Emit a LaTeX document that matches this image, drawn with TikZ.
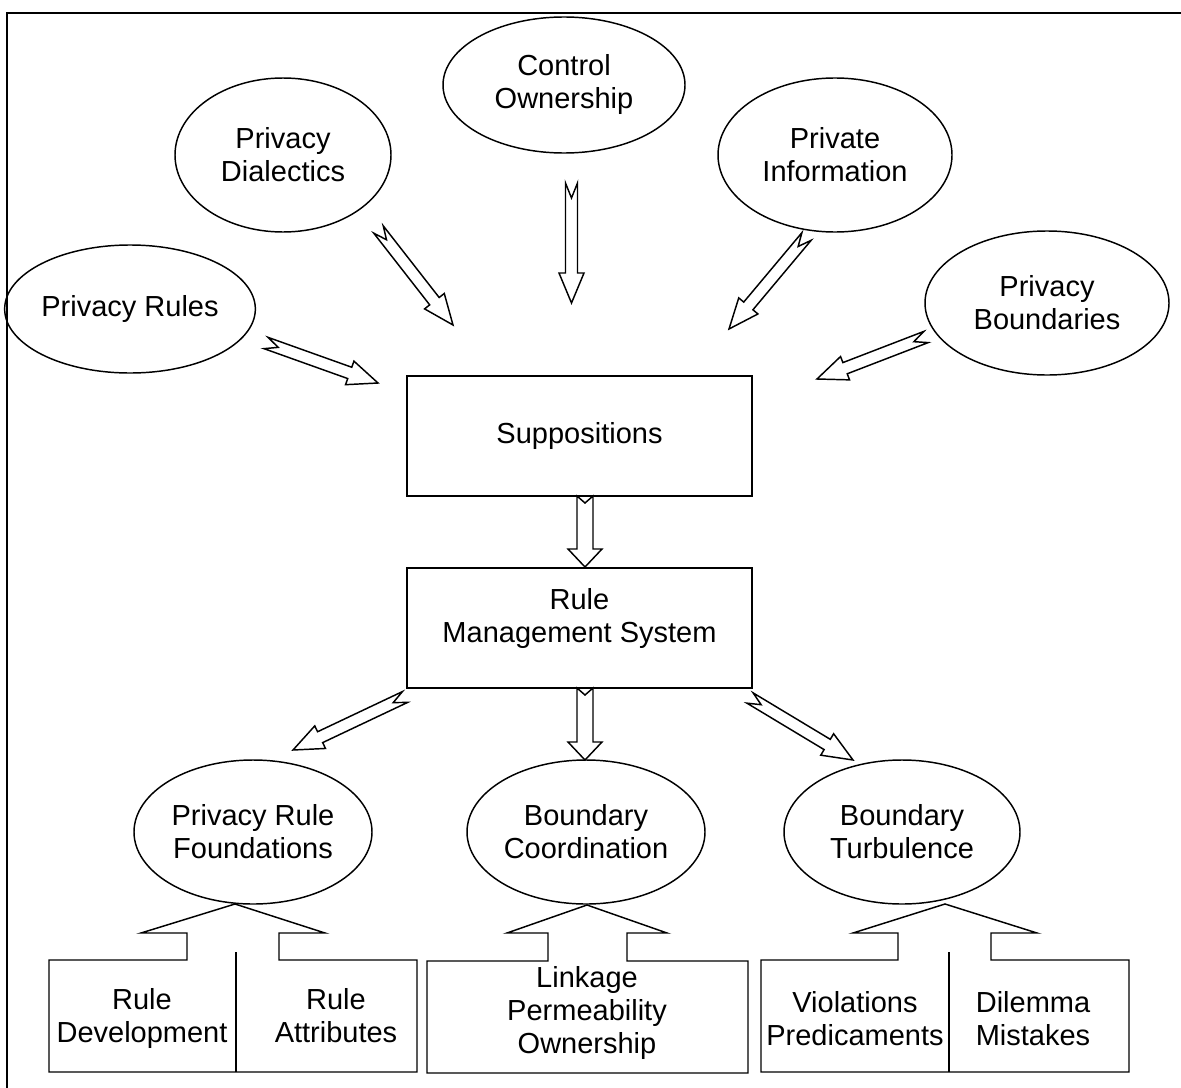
\documentclass[tikz,border=0pt]{standalone}
\usepackage{fontspec}
\setmainfont{Liberation Sans}
\usetikzlibrary{shapes.geometric,calc}

% Hollow block arrow with a notched tail, drawn from a tail point to a tip point.
% #1 tail, #2 tip, #3 shaft half-width, #4 head half-width, #5 head length, #6 notch depth (all in px)
\newcommand{\notcharrow}[6]{%
  \draw[blockarrow] let \p1=(#1), \p2=(#2),
      \n1={atan2(\y2-\y1,\x2-\x1)},
      \n2={veclen(\x2-\x1,\y2-\y1)-#5*0.75pt}
    in ($(\p1)+(\n1+90:#3*0.75pt)$)
    -- ($(\p1)+(\n1:\n2)+(\n1+90:#3*0.75pt)$)
    -- ($(\p1)+(\n1:\n2)+(\n1+90:#4*0.75pt)$)
    -- (\p2)
    -- ($(\p1)+(\n1:\n2)+(\n1-90:#4*0.75pt)$)
    -- ($(\p1)+(\n1:\n2)+(\n1-90:#3*0.75pt)$)
    -- ($(\p1)+(\n1-90:#3*0.75pt)$)
    -- ($(\p1)+(\n1:#6*0.75pt)$)
    -- cycle;}

\begin{document}
\begin{tikzpicture}[x=0.75pt,y=-0.75pt,line width=1.1pt,
  every node/.style={font=\fontsize{21.75}{24.75}\selectfont,align=center},
  bubble/.style={draw,ellipse,inner sep=0pt},
  panel/.style={draw,rectangle,inner sep=0pt,minimum width=0.75*345,minimum height=0.75*120},
  caption/.style={inner sep=0pt},
  blockarrow/.style={draw,fill=white,line join=miter},
  callout/.style={draw,line join=miter}]
\useasboundingbox (0,0) rectangle (1181,1088);

% outer frame
\draw[line width=1.6pt] (7,1088) -- (7,13) -- (1181,13);

% top ring of concepts
\node[bubble,minimum width=0.75*238,minimum height=0.75*128] (rules) at (130,309) {Privacy Rules};
\node[bubble,minimum width=0.75*216,minimum height=0.75*154] (dialect) at (283,155) {Privacy\\Dialectics};
\node[bubble,minimum width=0.75*242,minimum height=0.75*136] (control) at (564,85) {Control\\Ownership};
\node[bubble,minimum width=0.75*234,minimum height=0.75*154] (private) at (835,155) {Private\\Information};
\node[bubble,minimum width=0.75*244,minimum height=0.75*144] (bound) at (1047,303) {Privacy\\Boundaries};

% central boxes
\node[panel] (supp) at (579.5,436) {Suppositions};
\node[panel] (rms) at (579.5,628) {};
\node[caption] (rmstext) at (579.5,618) {Rule\\Management System};

% lower concepts
\node[bubble,minimum width=0.75*238,minimum height=0.75*144] (found) at (253,832) {Privacy Rule\\Foundations};
\node[bubble,minimum width=0.75*238,minimum height=0.75*144] (coord) at (586,832) {Boundary\\Coordination};
\node[bubble,minimum width=0.75*236,minimum height=0.75*144] (turb) at (902,832) {Boundary\\Turbulence};

% arrow end points
\coordinate (a1t) at (266,343);   \coordinate (a1h) at (378,383);
\coordinate (a2t) at (378.5,229.5); \coordinate (a2h) at (453,325);
\coordinate (a3t) at (571.5,183); \coordinate (a3h) at (571.5,303);
\coordinate (a4t) at (806.5,236.5); \coordinate (a4h) at (729,329);
\coordinate (a5t) at (926,337);   \coordinate (a5h) at (817,379);
\coordinate (a6t) at (585,496);   \coordinate (a6h) at (585,567);
\coordinate (a7t) at (585,688);   \coordinate (a7h) at (585,760);
\coordinate (a8t) at (405,697);   \coordinate (a8h) at (293,750);
\coordinate (a9t) at (750,698);   \coordinate (a9h) at (853,760);

% inputs to the suppositions
\notcharrow{a1t}{a1h}{6}{12.5}{30}{13}
\notcharrow{a2t}{a2h}{6}{12.5}{30}{13}
\notcharrow{a3t}{a3h}{6}{12.5}{30}{15}
\notcharrow{a4t}{a4h}{6}{12.5}{30}{13}
\notcharrow{a5t}{a5h}{6}{12.5}{30}{13}
% central flow
\notcharrow{a6t}{a6h}{8}{17}{18}{7}
\notcharrow{a7t}{a7h}{8}{17}{18}{7}
% outputs of the rule management system
\notcharrow{a8t}{a8h}{6}{12.5}{30}{13}
\notcharrow{a9t}{a9h}{6}{12.5}{30}{13}

% bottom callouts
\draw[callout] (49,960) -- (187,960) -- (187,933) -- (141,933) -- (235,904) -- (325,933)
  -- (279,933) -- (279,960) -- (417,960) -- (417,1072) -- (49,1072) -- cycle;
\draw (236,952) -- (236,1072);
\node[caption] (dev) at (142,1018) {Rule\\Development};
\node[caption] (attr) at (336,1016) {Rule\\Attributes};

\draw[callout] (427,961) -- (548,961) -- (548,933) -- (507,933) -- (587,905) -- (667,933)
  -- (627,933) -- (627,961) -- (748,961) -- (748,1073) -- (427,1073) -- cycle;
\node[caption] (link) at (587,1013) {Linkage\\Permeability\\Ownership};

\draw[callout] (761,960) -- (898,960) -- (898,933) -- (853,933) -- (945,904) -- (1037,933)
  -- (991,933) -- (991,960) -- (1129,960) -- (1129,1072) -- (761,1072) -- cycle;
\draw (949,952) -- (949,1072);
\node[caption] (viol) at (855,1019) {Violations\\Predicaments};
\node[caption] (dilem) at (1033,1019) {Dilemma\\Mistakes};
\end{tikzpicture}
\end{document}
